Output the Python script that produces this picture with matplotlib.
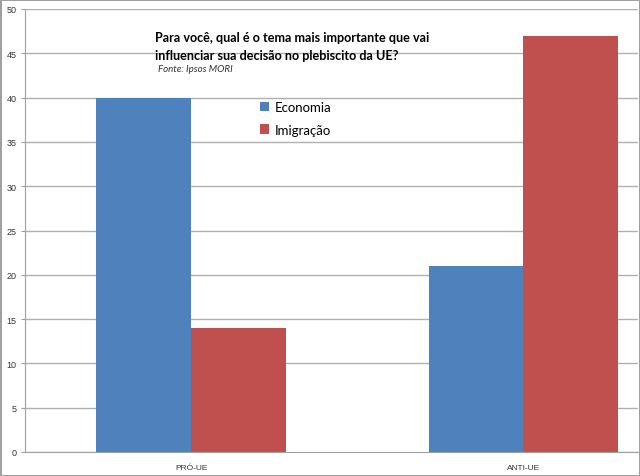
import numpy as np
import matplotlib.pyplot as plt
from matplotlib.patches import Rectangle

categories = ["PRÓ-UE", "ANTI-UE"]
economia = [40, 21]
imigracao = [14, 47]
yticks = list(range(0, 51, 5))

fig = plt.figure(figsize=(6.4, 4.77), dpi=100)
fig.patch.set_edgecolor("#a0a0a0")
fig.patch.set_linewidth(2)
ax = fig.add_axes([25/640, 1 - 453/477, 613/640, 443/477])

x = np.arange(len(categories))
w = 0.285
ax.bar(x - w/2, economia, w, color="#4f81bd", label="Economia", zorder=2)
ax.bar(x + w/2, imigracao, w, color="#c0504d", label="Imigração", zorder=2)

ax.set_ylim(0, 50)
ax.set_xlim(-0.5, 1.345)
ax.set_yticks(yticks)
ax.set_yticklabels([str(t) for t in yticks], fontsize=6.5, color="#333333",
                   family="Liberation Sans")
ax.set_xticks(x)
ax.set_xticklabels(categories, fontsize=6, color="#333333", family="Liberation Sans")
ax.set_xticks([-0.5, 0.5], minor=True)
ax.tick_params(axis="x", which="major", length=0, pad=9)
ax.tick_params(axis="x", which="minor", length=3, color="#a0a0a0", direction="in")
ax.tick_params(axis="y", length=3, color="#a0a0a0", pad=3)
ax.yaxis.grid(True, color="#b0b0b0", linewidth=1)
ax.set_axisbelow(True)
for s in ["top", "right"]:
    ax.spines[s].set_visible(False)
for s in ["left", "bottom"]:
    ax.spines[s].set_color("#a0a0a0")

# white title area hiding the gridline
ax.add_patch(Rectangle((104/640, 20/477), 380/640, 60/477, transform=fig.transFigure,
                       facecolor="white", edgecolor="none", zorder=1.5))

fig.text(155/640, 1 - 38/477, "Para você, qual é o tema mais importante que vai",
         fontsize=9.1, fontweight="bold", family="Lato", va="center", ha="left")
fig.text(155/640, 1 - 56/477, "influenciar sua decisão no plebiscito da UE?",
         fontsize=9.1, fontweight="bold", family="Lato", va="center", ha="left")
fig.text(158/640, 1 - 70/477, "Fonte: Ipsos MORI", fontsize=7, style="italic",
         family="Lato", va="center", ha="left", color="#333333")

ax.legend(loc="upper left", bbox_to_anchor=(260/640, 1 - 102/477),
          bbox_transform=fig.transFigure, frameon=False,
          prop={"family": "Lato", "size": 9.5}, handlelength=0.7, handleheight=0.7,
          handletextpad=0.4, labelspacing=0.8, borderpad=0, borderaxespad=0)

fig.savefig("out.png", dpi=100, edgecolor=fig.get_edgecolor())
